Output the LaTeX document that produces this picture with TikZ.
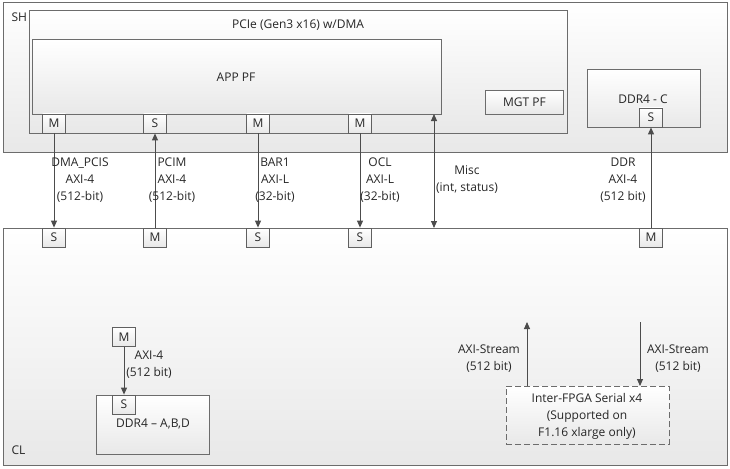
\documentclass[tikz,border=0pt]{standalone}
\usepackage{fontspec}
\setmainfont{Open Sans}
\usetikzlibrary{arrows.meta}

\begin{document}
\begin{tikzpicture}[x=1pt, y=-1pt,
    >={Triangle[length=7pt,width=6pt]},
    every node/.style={font=\fontsize{12}{17}\selectfont, text=black!85},
    blk/.style={draw=gray!85!black, line width=0.8pt, top color=white, bottom color=gray!18, inner sep=0pt, anchor=north west},
    port/.style={draw=gray!75!black, line width=0.8pt, top color=white, bottom color=gray!18, minimum width=23pt, minimum height=19pt, inner sep=0pt},
    link/.style={draw=black!70, line width=0.9pt, ->},
    lbl/.style={align=center, inner sep=0pt}]
    \useasboundingbox (0,0) rectangle (730,468);

    % SH
    \node[blk, minimum width=724pt, minimum height=150pt] (sh) at (3,2) {};
    \node[anchor=west] (shname) at (8,17) {SH};
    \node[blk, minimum width=538pt, minimum height=123pt] (pcie) at (29,10) {};
    \node (pcielbl) at (298,25) {PCIe (Gen3 x16) w/DMA};
    \node[blk, minimum width=409pt, minimum height=75pt] (app) at (32,39) {};
    \node (applbl) at (236,77) {APP PF};
    \node[blk, minimum width=78pt, minimum height=24pt] (mgt) at (485,90) {};
    \node (mgtlbl) at (mgt.center) {MGT PF};
    \node[blk, minimum width=113pt, minimum height=58pt] (ddrc) at (587,69) {};
    \node (ddrclbl) at (643,99) {DDR4 - C};

    \node[port] (shM1) at (54,123.5) {M};
    \node[port] (shS2) at (155,123.5) {S};
    \node[port] (shM3) at (258,123.5) {M};
    \node[port] (shM4) at (360,123.5) {M};
    \node[port] (ddrcS) at (651,117.5) {S};

    % CL
    \node[blk, minimum width=724pt, minimum height=237pt] (cl) at (3,228) {};
    \node[anchor=west] (clname) at (8,450) {CL};

    \node[port] (clS1) at (54,237.5) {S};
    \node[port] (clM2) at (155,237.5) {M};
    \node[port] (clS3) at (258,237.5) {S};
    \node[port] (clS4) at (360,237.5) {S};
    \node[port] (clM5) at (651,237.5) {M};

    % DDR4 - A,B,D
    \node[blk, minimum width=113pt, minimum height=59pt] (ddrabd) at (96,395) {};
    \node (ddrabdlbl) at (153,424) {DDR4 -- A,B,D};
    \node[port] (abdM) at (124,337) {M};
    \node[port] (abdS) at (124,404.5) {S};

    % Inter-FPGA
    \node[blk, dash pattern=on 6pt off 3pt, minimum width=163pt, minimum height=58pt] (fpga) at (506,386) {};
    \node[lbl] (fpgalbl) at (587,416) {Inter-FPGA Serial x4\\(Supported on\\F1.16 xlarge only)};
    \coordinate (strUp) at (527,322);
    \coordinate (strDown) at (640,322);

    \coordinate (miscA) at (434,114);
    \coordinate (miscB) at (434,228);

    % connectors
    \draw[link] (shM1) -- (clS1);
    \draw[link] (clM2) -- (shS2);
    \draw[link] (shM3) -- (clS3);
    \draw[link] (shM4) -- (clS4);
    \draw[link, <->] (miscA) -- (miscB);
    \draw[link] (clM5) -- (ddrcS);
    \draw[link] (abdM) -- (abdS);
    \draw[link] (strUp |- fpga.north) -- (strUp);
    \draw[link] (strDown) -- (strDown |- fpga.north);

    % labels
    \node[lbl] (dmalbl) at (80,180) {DMA\_PCIS\\AXI-4\\(512-bit)};
    \node[lbl] (pcimlbl) at (172,180) {PCIM\\AXI-4\\(512-bit)};
    \node[lbl] (barlbl) at (275,180) {BAR1\\AXI-L\\(32-bit)};
    \node[lbl] (ocllbl) at (380,180) {OCL\\AXI-L\\(32-bit)};
    \node[lbl] (misclbl) at (467,180) {Misc\\(int, status)};
    \node[lbl] (ddrlbl) at (623,180) {DDR\\AXI-4\\(512 bit)};
    \node[lbl] (abdlbl) at (149,365) {AXI-4\\(512 bit)};
    \node[lbl] (strUplbl) at (489,359) {AXI-Stream\\(512 bit)};
    \node[lbl] (strDownlbl) at (678,359) {AXI-Stream\\(512 bit)};
\end{tikzpicture}
\end{document}
